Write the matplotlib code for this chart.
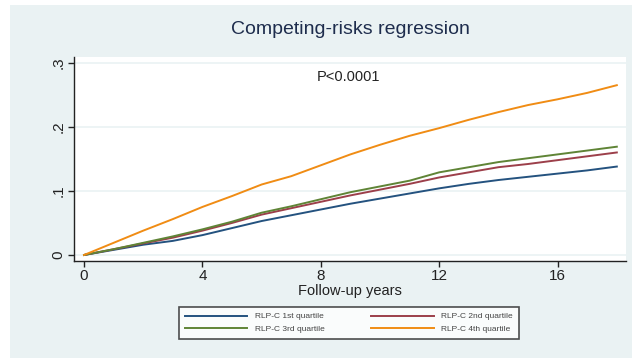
import numpy as np
import matplotlib
matplotlib.use("Agg")
import matplotlib.pyplot as plt
from matplotlib.patches import Rectangle

plt.rcParams["font.family"] = ["Liberation Sans", "DejaVu Sans"]

# values (cumulative incidence by year)
years = [0, 1, 2, 3, 4, 5, 6, 7, 8, 9, 10, 11, 12, 13, 14, 15, 16, 17, 18]
q1 = [0, .008, .016, .022, .031, .042, .053, .062, .071, .080, .088, .096, .104, .111, .117, .122, .127, .132, .138]
q2 = [0, .009, .018, .027, .038, .050, .063, .073, .083, .093, .102, .111, .121, .129, .137, .142, .148, .154, .160]
q3 = [0, .009, .019, .029, .040, .052, .066, .076, .087, .098, .107, .116, .129, .137, .145, .151, .157, .163, .169]
q4 = [0, .019, .038, .056, .075, .092, .110, .123, .140, .157, .172, .186, .198, .211, .223, .234, .243, .253, .265]
labels = ["RLP-C 1st quartile", "RLP-C 2nd quartile", "RLP-C 3rd quartile", "RLP-C 4th quartile"]
colors = ["#24527f", "#9c3f4a", "#5f8436", "#f08c14"]

xticks = [0, 4, 8, 12, 16]
yticks = [0, .1, .2, .3]
yticklabels = ["0", ".1", ".2", ".3"]

BG = "#eaf2f3"

fig = plt.figure(figsize=(6.32, 3.58), dpi=100, facecolor="white")
fig.add_artist(Rectangle((10 / 632, 0), 1, 1 - 5 / 358, transform=fig.transFigure,
                         facecolor=BG, edgecolor="none", zorder=-10))

ax = fig.add_axes([74 / 632, 1 - 261 / 358, (626 - 74) / 632, (261 - 57) / 358])
ax.set_facecolor("white")

series = [q1, q2, q3, q4]
handles = []
for s, c, lab in zip(series, colors, labels):
    h, = ax.plot(years, s, color=c, linewidth=1.4, label=lab)
    handles.append(h)

ax.set_xlim(-0.34, 18.31)
ax.set_ylim(-0.0094, 0.309)
ax.set_xticks(xticks)
ax.set_xticklabels([str(t) for t in xticks], fontsize=11)
ax.set_yticks(yticks)
ax.set_yticklabels(yticklabels, fontsize=11, rotation=90, va="center")
ax.tick_params(axis="both", direction="out", length=4, width=1, colors="#222222", pad=2)
ax.grid(axis="y", color=BG, linewidth=1.2)
ax.set_axisbelow(True)
for side in ["top", "right"]:
    ax.spines[side].set_visible(False)
for side in ["left", "bottom"]:
    ax.spines[side].set_color("#222222")
    ax.spines[side].set_linewidth(1.0)

fig.text(350 / 632, 1 - 29 / 358, "Competing-risks regression", ha="center", va="center",
         fontsize=14, color="#1e2d4d")
fig.text(348 / 632, 1 - 77 / 358, "P<0.0001", ha="center", va="center", fontsize=10.5, color="#222222")
fig.text(350 / 632, 1 - 291 / 358, "Follow-up years", ha="center", va="center", fontsize=10.5, color="#222222")

# column-major fill in matplotlib, so order gives rows 1st/2nd then 3rd/4th
order = [0, 2, 1, 3]
leg = fig.legend(handles=[handles[i] for i in order],
                 labels=[labels[i] for i in order],
                 ncol=2, loc="center", bbox_to_anchor=(349 / 632, 1 - 323 / 358),
                 fontsize=6, frameon=True, fancybox=False, edgecolor="#222222",
                 handlelength=7.5, columnspacing=5.6, handletextpad=0.9,
                 borderpad=0.7, labelspacing=0.6)
leg.get_frame().set_linewidth(1.2)
for t in leg.get_texts():
    t.set_color("#444444")

fig.savefig("out.png", dpi=100, facecolor="white")
